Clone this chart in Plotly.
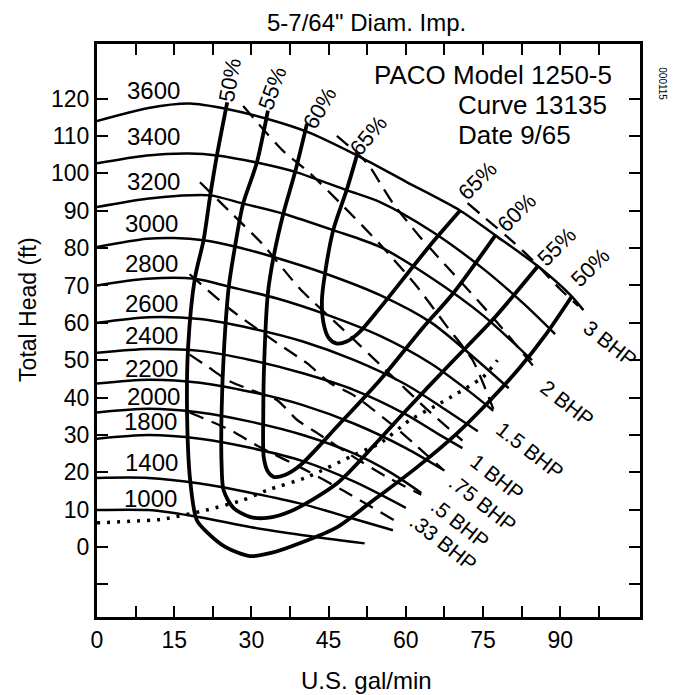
import plotly.graph_objects as go

# ---------------- data ----------------
x_ticks = [0, 7.5, 15, 22.5, 30, 37.5, 45, 52.5, 60, 67.5, 75, 82.5, 90, 97.5]
x_ticktext = ["0", "", "15", "", "30", "", "45", "", "60", "", "75", "", "90", ""]
y_ticks = [-10, 0, 10, 20, 30, 40, 50, 60, 70, 80, 90, 100, 110, 120]
y_ticktext = ["", "0", "10", "20", "30", "40", "50", "60", "70", "80", "90", "100", "110", "120"]

# speed (rpm) head-capacity curves
rpm_3600_x = [0, 10, 18, 25, 33, 41, 50.5, 60, 70.6, 77.4, 85.8, 92, 94.5]
rpm_3600_y = [114, 117.5, 118.7, 117.3, 114.6, 111, 104.8, 97.8, 90, 83.4, 75, 67.4, 63.4]
rpm_3400_x = [0, 9.7, 18, 23.3, 31.7, 38.5, 48.5, 55, 65, 75, 83, 89]
rpm_3400_y = [102.7, 104.8, 105.3, 104.8, 102.7, 100.4, 95.5, 92.3, 84.5, 74.5, 65, 57]
rpm_3200_x = [0, 9.7, 16, 22, 28.4, 36.2, 45.9, 55, 65, 75, 84.5]
rpm_3200_y = [91, 93.2, 94, 94.1, 91.9, 89.2, 84.8, 80.3, 72, 62, 50]
rpm_3000_x = [0, 9.7, 15, 20.7, 27.2, 34.3, 44.3, 55, 65, 73, 80]
rpm_3000_y = [80.3, 82.5, 82.7, 82.1, 80.3, 77.6, 73.2, 67.4, 60, 51, 42.5]
rpm_2800_x = [0, 9.7, 19, 25.9, 35, 45, 55, 65, 72, 77]
rpm_2800_y = [70, 71.8, 71.8, 69.6, 66.5, 62, 56.5, 49, 42, 36.5]
rpm_2600_x = [0, 10, 20, 30, 40, 50, 60, 68, 74]
rpm_2600_y = [60, 61.5, 61, 58.5, 55, 50, 43.5, 36.5, 31]
rpm_2400_x = [0, 10, 20, 30, 40, 50, 60, 66, 71]
rpm_2400_y = [52, 53, 52.5, 50, 46.5, 42, 35.5, 30.5, 26.5]
rpm_2200_x = [0, 10, 20, 30, 40, 50, 60, 67.5]
rpm_2200_y = [43.8, 44.8, 44, 41.5, 38, 33, 26.5, 20.5]
rpm_2000_x = [0, 10, 20, 30, 40, 50, 57, 63]
rpm_2000_y = [36, 37, 36, 33.5, 30, 25, 20, 14.5]
rpm_1800_x = [0, 10, 20, 30, 40, 50, 60]
rpm_1800_y = [29, 30, 29, 26.5, 23, 17.5, 10.5]
rpm_1400_x = [0, 10, 20, 30, 40, 50, 57.5]
rpm_1400_y = [18.5, 18.5, 17, 14.5, 11.5, 7.5, 4.5]
rpm_1000_x = [0, 10, 20, 30, 40, 52]
rpm_1000_y = [9.9, 9.9, 8, 5.3, 3.2, 1]

speed_labels = ["3600", "3400", "3200", "3000", "2800", "2600", "2400", "2200", "2000", "1800", "1400", "1000"]
speed_label_x = [10.9, 10.9, 10.9, 10.6, 10.6, 10.6, 10.6, 10.6, 10.9, 10.3, 10.6, 10.3]
speed_label_y = [122.2, 109.8, 97.8, 86.6, 75.9, 65.2, 56.7, 47.8, 40.2, 33.5, 22.6, 13]

# efficiency curves
eff_50_x = [25.3, 23.3, 22, 20.7, 19, 17.7, 17.5, 18.1, 19.4, 21.6, 25, 29.7, 34, 39.5, 46.6, 53, 62.2, 70, 76.4, 82.2, 87, 92.3]
eff_50_y = [119, 104.8, 94.1, 82.1, 71.8, 53.5, 35.8, 17.9, 7.2, 3.7, 0, -2.4, -1.5, 1.1, 5.3, 11.8, 21.4, 30.5, 39.3, 48.1, 56.5, 67.2]
eff_55_x = [33.2, 31, 28.4, 26.8, 25.6, 24.7, 24.2, 24.2, 24.6, 26.5, 29.7, 33, 37.5, 46.6, 55, 60, 68.6, 77, 85.8]
eff_55_y = [116.8, 102.6, 91.9, 80.3, 69.6, 53.5, 35.8, 22.4, 15.2, 10.5, 8.1, 7.8, 9.5, 17, 29, 36.5, 49, 61, 75.4]
eff_60_x = [40.8, 38.5, 36.2, 34.3, 33.2, 32.5, 32.3, 32.4, 33.2, 34.3, 36.5, 39.5, 46.6, 55, 63.4, 69.2, 77.4]
eff_60_y = [113.3, 100.4, 89.2, 77.6, 67.9, 50, 35, 24, 20.2, 18.8, 19.3, 21.9, 32.2, 44.7, 58.8, 67.9, 83.4]
eff_65_x = [50.5, 48.5, 45.9, 44.3, 43.7, 44, 45, 46.5, 48.5, 51, 55, 64.7, 70.6]
eff_65_y = [104.8, 95.5, 84.8, 73.2, 66, 60, 56, 54.5, 55, 57.5, 64, 80.7, 90.1]

eff_labels = ["50%", "55%", "60%", "65%", "65%", "60%", "55%", "50%"]
eff_label_x = [25.9, 34, 43.4, 52.7, 73.9, 81.6, 89.4, 95.8]
eff_label_y = [125, 122.8, 117.5, 110.2, 98.2, 89.4, 80.3, 74.9]
eff_label_angle = [-80, -70, -60, -50, -45, -45, -45, -45]

# brake horsepower lines
bhp_3_x = [72, 80.9, 84.6, 90, 93.5]
bhp_3_y = [92, 81.6, 76.8, 69, 64.5]
bhp_2_x = [46.6, 52.5, 55, 57.5, 62.8, 68, 74, 80, 85]
bhp_2_y = [110, 102.7, 97.4, 92, 82.9, 75, 66, 56.5, 48]
bhp_15_x = [28.4, 36, 41.4, 48, 55, 62, 68, 73, 77]
bhp_15_y = [118, 106.2, 100, 91, 81, 70, 59, 50, 37]
bhp_1_x = [20, 26, 32, 39.5, 48, 56, 64, 71]
bhp_1_y = [97.6, 89.5, 81.3, 69, 58, 47.5, 37, 28.5]
bhp_075_x = [18, 26, 35, 40.8, 45.3, 50, 58, 67]
bhp_075_y = [73, 63.5, 54.6, 49.2, 43.9, 40.5, 32, 21]
bhp_05_x = [18, 21.6, 25.3, 30, 35, 38.9, 42.8, 50, 56, 63]
bhp_05_y = [51.5, 48.2, 44.7, 42, 39.3, 34, 30.5, 24, 19, 14]
bhp_033_x = [18, 20.6, 25.9, 31.7, 40, 48, 58]
bhp_033_y = [36, 34.5, 31.3, 26.7, 21, 15, 7]

bhp_labels = ["3 BHP", "2 BHP", "1.5 BHP", "1 BHP", ".75 BHP", ".5 BHP", ".33 BHP"]
bhp_label_x = [99.7, 91.4, 84.2, 77.8, 75, 70.6, 67.3]
bhp_label_y = [54.5, 38.5, 25.9, 18.7, 11.8, 6.4, 1.1]

# dotted curve (NPSH)
npsh_x = [0, 12.8, 21.2, 28.4, 33, 40.8, 50.5, 55, 60.8, 66.7, 75, 77.8]
npsh_y = [6.5, 7.5, 9.9, 12.6, 15.2, 18.7, 25, 27.8, 34, 38.5, 45.5, 50]

info_lines = ["PACO Model 1250-5", "Curve 13135", "Date 9/65"]
info_x = [53.5, 69.8, 69.8]
info_y = [126.3, 118.3, 110.3]

FONT = "Liberation Sans, Arial, Helvetica, sans-serif"

fig = go.Figure()

speed_curves = [
    (rpm_3600_x, rpm_3600_y), (rpm_3400_x, rpm_3400_y), (rpm_3200_x, rpm_3200_y),
    (rpm_3000_x, rpm_3000_y), (rpm_2800_x, rpm_2800_y), (rpm_2600_x, rpm_2600_y),
    (rpm_2400_x, rpm_2400_y), (rpm_2200_x, rpm_2200_y), (rpm_2000_x, rpm_2000_y),
    (rpm_1800_x, rpm_1800_y), (rpm_1400_x, rpm_1400_y), (rpm_1000_x, rpm_1000_y),
]
for (xs, ys), name in zip(speed_curves, speed_labels):
    fig.add_trace(go.Scatter(x=xs, y=ys, mode="lines", name=name,
                             line=dict(color="black", width=2.5, shape="spline", smoothing=0.8),
                             hoverinfo="skip", showlegend=False))

bhp_curves = [(bhp_3_x, bhp_3_y), (bhp_2_x, bhp_2_y), (bhp_15_x, bhp_15_y), (bhp_1_x, bhp_1_y),
              (bhp_075_x, bhp_075_y), (bhp_05_x, bhp_05_y), (bhp_033_x, bhp_033_y)]
for (xs, ys), name in zip(bhp_curves, bhp_labels):
    fig.add_trace(go.Scatter(x=xs, y=ys, mode="lines", name=name,
                             line=dict(color="black", width=2.3, dash="15px,9px", shape="spline", smoothing=0.6),
                             hoverinfo="skip", showlegend=False))

fig.add_trace(go.Scatter(x=npsh_x, y=npsh_y, mode="lines", name="NPSH",
                         line=dict(color="black", width=3.5, dash="3px,7px", shape="spline", smoothing=0.6),
                         hoverinfo="skip", showlegend=False))

eff_curves = [(eff_50_x, eff_50_y), (eff_55_x, eff_55_y), (eff_60_x, eff_60_y), (eff_65_x, eff_65_y)]
for (xs, ys), name in zip(eff_curves, ["50%", "55%", "60%", "65%"]):
    fig.add_trace(go.Scatter(x=xs, y=ys, mode="lines", name=name,
                             line=dict(color="black", width=3.8, shape="spline", smoothing=0.8),
                             hoverinfo="skip", showlegend=False))

annotations = []
for t, x, y in zip(speed_labels, speed_label_x, speed_label_y):
    annotations.append(dict(x=x, y=y, xref="x", yref="y", text=t, showarrow=False,
                            font=dict(size=24, color="black", family=FONT)))
for t, x, y, a in zip(eff_labels, eff_label_x, eff_label_y, eff_label_angle):
    annotations.append(dict(x=x, y=y, xref="x", yref="y", text=t, showarrow=False, textangle=a,
                            font=dict(size=22, color="black", family=FONT)))
for t, x, y in zip(bhp_labels, bhp_label_x, bhp_label_y):
    annotations.append(dict(x=x, y=y, xref="x", yref="y", text=t, showarrow=False, textangle=38,
                            font=dict(size=21, color="black", family=FONT)))
for t, x, y in zip(info_lines, info_x, info_y):
    annotations.append(dict(x=x, y=y, xref="x", yref="y", text=t, showarrow=False, xanchor="left",
                            font=dict(size=26, color="black", family=FONT)))

annotations.append(dict(x=0.497, y=1.038, xref="paper", yref="paper", text="5-7/64\" Diam. Imp.",
                        showarrow=False, yanchor="middle", font=dict(size=24, color="black", family=FONT)))
annotations.append(dict(x=0.497, y=-0.11, xref="paper", yref="paper", text="U.S. gal/min",
                        showarrow=False, yanchor="middle", font=dict(size=24, color="black", family=FONT)))
annotations.append(dict(x=-0.127, y=0.536, xref="paper", yref="paper", text="Total Head (ft)",
                        showarrow=False, textangle=-90, xanchor="center", yanchor="middle",
                        font=dict(size=23, color="black", family=FONT)))
annotations.append(dict(x=1.042, y=0.93, xref="paper", yref="paper", text="000115",
                        showarrow=False, textangle=90, xanchor="center", yanchor="middle",
                        font=dict(size=10, color="black", family=FONT)))

fig.update_layout(
    width=674, height=695,
    margin=dict(l=97, r=34, t=44, b=78),
    paper_bgcolor="white", plot_bgcolor="white",
    showlegend=False,
    annotations=annotations,
    font=dict(family=FONT, color="black"),
)
fig.update_xaxes(range=[0, 105.5], tickvals=x_ticks, ticktext=x_ticktext, ticks="inside", ticklen=11,
                 tickwidth=2, tickcolor="black", showline=True, linewidth=3, linecolor="black",
                 mirror="ticks", showgrid=False, zeroline=False, tickfont=dict(size=23, family=FONT))
fig.update_yaxes(range=[-18.7, 134.6], tickvals=y_ticks, ticktext=y_ticktext, ticks="inside", ticklen=11,
                 tickwidth=2, tickcolor="black", showline=True, linewidth=3, linecolor="black",
                 mirror="ticks", showgrid=False, zeroline=False, tickfont=dict(size=23, family=FONT))

fig.write_html("out.html")
